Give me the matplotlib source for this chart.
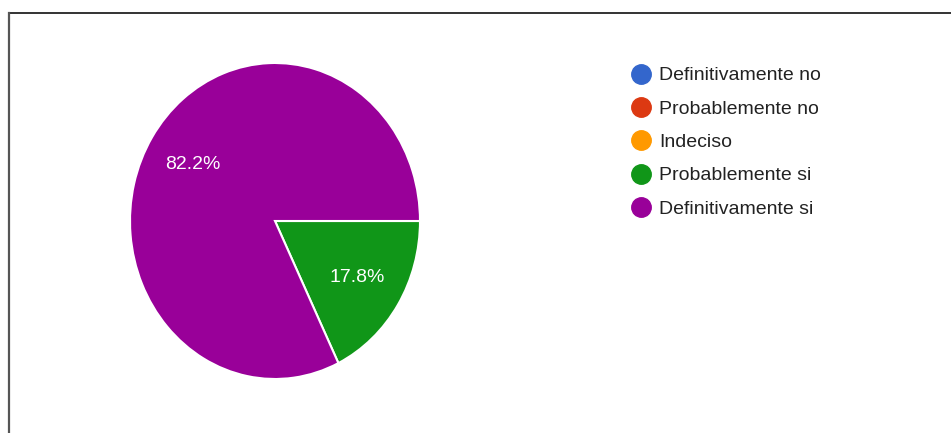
import matplotlib.pyplot as plt
from matplotlib.lines import Line2D

plt.rcParams['font.family'] = ['Liberation Sans', 'DejaVu Sans']

# Survey answers and their share of responses (percent)
categories = ['Definitivamente no', 'Probablemente no', 'Indeciso',
              'Probablemente si', 'Definitivamente si']
shares = [0.0, 0.0, 0.0, 17.8, 82.2]
colors = ['#3366cc', '#dc3912', '#ff9900', '#109618', '#990099']

fig = plt.figure(figsize=(9.51, 4.33), dpi=100)
fig.patch.set_facecolor('white')

# frame lines along the top and left edges
fig.add_artist(Line2D([9 / 951, 1], [1 - 13 / 433] * 2, color='#333333', lw=1.4,
                      transform=fig.transFigure))
fig.add_artist(Line2D([9 / 951] * 2, [0, 1 - 13 / 433], color='#555555', lw=1.6,
                      transform=fig.transFigure))

ax = fig.add_axes([130 / 951, 1 - 379 / 433, 290 / 951, 316 / 433])
wedges, texts, autotexts = ax.pie(
    shares, colors=colors, startangle=0, counterclock=False,
    autopct=lambda p: f'{p:.1f}%' if p > 0 else '', pctdistance=0.67,
    wedgeprops=dict(edgecolor='white', linewidth=1.5),
    textprops=dict(color='white', fontsize=14))
ax.set_aspect('auto')
ax.set_xlim(-1, 1)
ax.set_ylim(-1, 1)
ax.axis('off')

handles = [Line2D([], [], linestyle='', marker='o', markersize=14,
                  markerfacecolor=c, markeredgecolor=c) for c in colors]
leg = fig.legend(handles, categories, loc='upper left',
                 bbox_to_anchor=(623 / 951, 1 - 59 / 433), frameon=False,
                 fontsize=14, handlelength=1.0, handletextpad=0.45,
                 labelspacing=0.81, borderaxespad=0)
for t in leg.get_texts():
    t.set_color('#222222')

fig.savefig('out.png', dpi=100)
